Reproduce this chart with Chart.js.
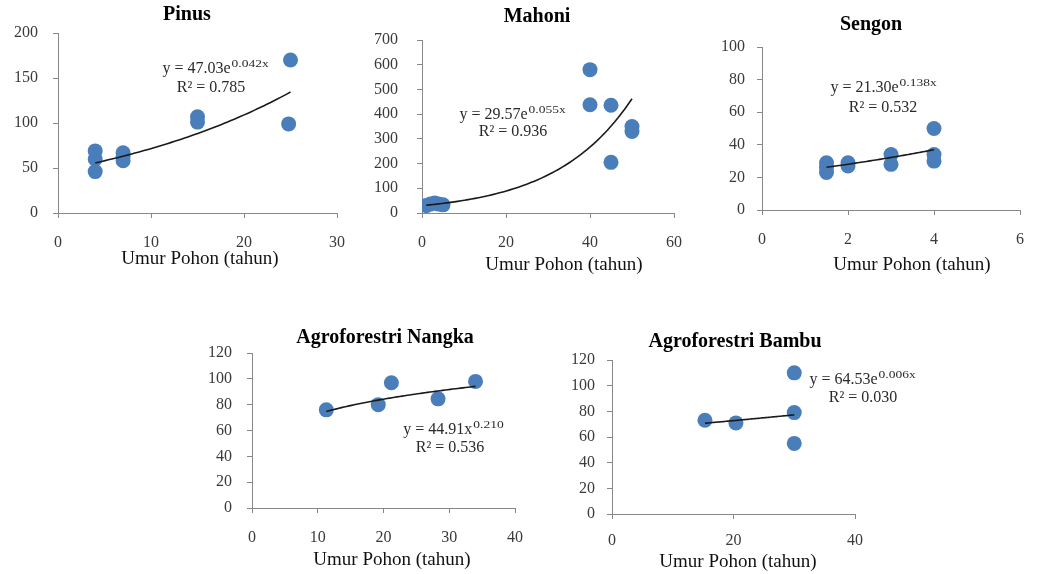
<!DOCTYPE html>
<html>
<head>
<meta charset="utf-8">
<script src="https://cdn.jsdelivr.net/npm/chart.js@4/dist/chart.umd.min.js"></script>
<style>
  html, body { margin: 0; padding: 0; background: #fff; width: 1039px; height: 574px; overflow: hidden; position: relative; }
  canvas { position: absolute; }
</style>
</head>
<body>
<script>
// Tree age (years) against measured value, one pair of arrays per stand
const pinusAge    = [4, 4, 4, 7, 7, 7, 15, 15, 25, 24.8];
const pinusValue  = [69, 60, 46, 67, 63, 58, 107, 101, 170, 99];

const mahoniAge   = [1, 2, 3, 4, 5, 40, 40, 45, 45, 50, 50];
const mahoniValue = [30, 36, 40, 36, 33, 580, 438, 436, 205, 350, 330];

const sengonAge   = [1.5, 1.5, 1.5, 2, 2, 3, 3, 4, 4, 4];
const sengonValue = [29, 26, 23, 29, 27, 34, 28, 50, 34, 30];

const nangkaAge   = [11.3, 19.2, 21.2, 28.3, 34];
const nangkaValue = [76, 80, 97, 84.5, 98];

const bambuAge    = [15.3, 20.4, 30, 30, 30];
const bambuValue  = [73, 71, 110, 79, 55];

// Trendline coefficients [a, b] and coefficient of determination
const pinusFit  = [47.03, 0.042];  // y = a·e^(bx)
const mahoniFit = [29.57, 0.055];  // y = a·e^(bx)
const sengonFit = [21.30, 0.138];  // y = a·e^(bx)
const nangkaFit = [44.91, 0.210];  // y = a·x^b
const bambuFit  = [64.53, 0.006];  // y = a·e^(bx)
const pinusR2 = '0.785', mahoniR2 = '0.936', sengonR2 = '0.532', nangkaR2 = '0.536', bambuR2 = '0.030';

// Axis tick values
const pinusXTicks  = [0, 10, 20, 30];       const pinusYTicks  = [0, 50, 100, 150, 200];
const mahoniXTicks = [0, 20, 40, 60];       const mahoniYTicks = [0, 100, 200, 300, 400, 500, 600, 700];
const sengonXTicks = [0, 2, 4, 6];          const sengonYTicks = [0, 20, 40, 60, 80, 100];
const nangkaXTicks = [0, 10, 20, 30, 40];   const nangkaYTicks = [0, 20, 40, 60, 80, 100, 120];
const bambuXTicks  = [0, 20, 40];           const bambuYTicks  = [0, 20, 40, 60, 80, 100, 120];

const X_TITLE = 'Umur Pohon (tahun)';
const SERIF = '"Liberation Serif", "Times New Roman", serif';
const AXIS_GREY = '#888888';
const TICK_COLOR = '#3a3a3a';
const DOT = '#4a7ebb';
const SUP_STRETCH = 1.35;

// Layout of every panel: plot area in page pixels and where its texts sit
const panels = [
  { title: 'Pinus', age: pinusAge, value: pinusValue, fit: pinusFit, kind: 'exp', r2: pinusR2,
    xTicks: pinusXTicks, yTicks: pinusYTicks,
    area: { l: 58, t: 33, r: 340, b: 213 }, yPad: 15, xPad: 15, padR: 20,
    titleAt: [187, 15], axisTitleAt: [200, 259], eqAt: [215, 69], r2At: [211, 88] },
  { title: 'Mahoni', age: mahoniAge, value: mahoniValue, fit: mahoniFit, kind: 'exp', r2: mahoniR2,
    xTicks: mahoniXTicks, yTicks: mahoniYTicks,
    area: { l: 422, t: 40, r: 683, b: 213 }, yPad: 19, xPad: 15, padR: 14,
    titleAt: [537, 17], axisTitleAt: [564, 265], eqAt: [512, 115], r2At: [513, 132] },
  { title: 'Sengon', age: sengonAge, value: sengonValue, fit: sengonFit, kind: 'exp', r2: sengonR2,
    xTicks: sengonXTicks, yTicks: sengonYTicks,
    area: { l: 762, t: 47, r: 1030, b: 210 }, yPad: 12, xPad: 15, padR: 9,
    titleAt: [871, 25], axisTitleAt: [912, 265], eqAt: [883, 88], r2At: [883, 108] },
  { title: 'Agroforestri Nangka', age: nangkaAge, value: nangkaValue, fit: nangkaFit, kind: 'pow', r2: nangkaR2,
    xTicks: nangkaXTicks, yTicks: nangkaYTicks,
    area: { l: 252, t: 353, r: 518, b: 508 }, yPad: 15, xPad: 15, padR: 20,
    titleAt: [385, 338], axisTitleAt: [392, 560], eqAt: [453, 430], r2At: [450, 448] },
  { title: 'Agroforestri Bambu', age: bambuAge, value: bambuValue, fit: bambuFit, kind: 'exp', r2: bambuR2,
    xTicks: bambuXTicks, yTicks: bambuYTicks,
    area: { l: 612, t: 360, r: 855, b: 514 }, yPad: 12, xPad: 12, padR: 75,
    titleAt: [735, 342], axisTitleAt: [738, 562], eqAt: [862, 380], r2At: [863, 398] }
];

const Y_AXIS_W = 60;   // fixed width of the value axis box
const X_AXIS_H = 70;   // fixed height of the age axis box
const TOP_PAD = 40;

// Titles, axis title and the regression equation of one panel
const panelText = {
  id: 'panelText',
  afterDatasetsDraw(chart, args, o) {
    const ctx = chart.ctx;
    const dx = o.offset[0], dy = o.offset[1];
    ctx.save();
    ctx.textBaseline = 'middle';
    ctx.textAlign = 'center';
    ctx.fillStyle = '#000';
    ctx.font = `bold 20px ${SERIF}`;
    ctx.fillText(o.title, o.titleAt[0] - dx, o.titleAt[1] - dy);
    ctx.fillStyle = '#111';
    ctx.font = `19px ${SERIF}`;
    ctx.fillText(o.axisTitle, o.axisTitleAt[0] - dx, o.axisTitleAt[1] - dy);

    ctx.fillStyle = '#2a2a2a';
    ctx.font = `16px ${SERIF}`;
    const wBase = ctx.measureText(o.eqBase).width;
    ctx.font = `10px ${SERIF}`;
    const wSup = ctx.measureText(o.eqSup).width * SUP_STRETCH;
    const x0 = o.eqAt[0] - dx - (wBase + wSup) / 2;
    const y0 = o.eqAt[1] - dy;
    ctx.textAlign = 'left';
    ctx.font = `16px ${SERIF}`;
    ctx.fillText(o.eqBase, x0, y0);
    ctx.save();
    ctx.translate(x0 + wBase + 1, y0 - 5);
    ctx.scale(SUP_STRETCH, 1);
    ctx.font = `10px ${SERIF}`;
    ctx.fillText(o.eqSup, 0, 0);
    ctx.restore();

    ctx.textAlign = 'center';
    ctx.font = `16px ${SERIF}`;
    ctx.fillText('R\u00B2 = ' + o.r2, o.r2At[0] - dx, o.r2At[1] - dy);
    ctx.restore();
  }
};

function trendPoints(p) {
  const lo = Math.min(...p.age), hi = Math.max(...p.age);
  const [a, b] = p.fit;
  const pts = [];
  const n = 60;
  for (let i = 0; i < n; i++) {
    const x = lo + (hi - lo) * i / (n - 1);
    const y = p.kind === 'pow' ? a * Math.pow(x, b) : a * Math.exp(b * x);
    pts.push({ x, y });
  }
  return pts;
}

function axisOptions(ticks, pad, fit) {
  return {
    type: 'linear',
    min: ticks[0],
    max: ticks[ticks.length - 1],
    afterBuildTicks: (scale) => { scale.ticks = ticks.map(v => ({ value: v })); },
    afterFit: fit,
    grid: { display: true, drawOnChartArea: false, drawTicks: true, tickLength: 5, color: AXIS_GREY, lineWidth: 1 },
    border: { display: true, color: AXIS_GREY, width: 1 },
    ticks: { padding: pad, color: TICK_COLOR, font: { family: SERIF, size: 16 } }
  };
}

panels.forEach((p) => {
  const left = p.area.l - Y_AXIS_W;
  const top = p.area.t - TOP_PAD;
  const width = (p.area.r - p.area.l) + Y_AXIS_W + p.padR;
  const height = (p.area.b - p.area.t) + TOP_PAD + X_AXIS_H;

  const canvas = document.createElement('canvas');
  canvas.width = width;
  canvas.height = height;
  canvas.style.left = left + 'px';
  canvas.style.top = top + 'px';
  canvas.style.width = width + 'px';
  canvas.style.height = height + 'px';
  document.body.appendChild(canvas);

  const [a, b] = p.fit;
  const eqBase = 'y = ' + a.toFixed(2) + (p.kind === 'pow' ? 'x' : 'e');
  const eqSup = b.toFixed(3) + (p.kind === 'pow' ? '' : 'x');

  new Chart(canvas, {
    type: 'scatter',
    data: {
      datasets: [
        {
          type: 'line',
          data: trendPoints(p),
          borderColor: '#1a1a1a',
          borderWidth: 1.6,
          pointRadius: 0,
          fill: false,
          tension: 0
        },
        {
          data: p.age.map((x, i) => ({ x, y: p.value[i] })),
          backgroundColor: DOT,
          borderColor: DOT,
          borderWidth: 0,
          pointRadius: 7.5,
          pointHoverRadius: 7.5
        }
      ]
    },
    options: {
      responsive: false,
      animation: false,
      devicePixelRatio: 1,
      layout: { padding: { top: TOP_PAD, right: p.padR, left: 0, bottom: 0 } },
      scales: {
        x: axisOptions(p.xTicks, p.xPad, (s) => { s.height = X_AXIS_H; }),
        y: axisOptions(p.yTicks, p.yPad, (s) => { s.width = Y_AXIS_W; })
      },
      plugins: {
        legend: { display: false },
        tooltip: { enabled: false },
        title: { display: false },
        panelText: {
          offset: [left, top],
          title: p.title,
          titleAt: p.titleAt,
          axisTitle: X_TITLE,
          axisTitleAt: p.axisTitleAt,
          eqBase, eqSup, eqAt: p.eqAt,
          r2: p.r2, r2At: p.r2At
        }
      }
    },
    plugins: [panelText]
  });
});
</script>
</body>
</html>
